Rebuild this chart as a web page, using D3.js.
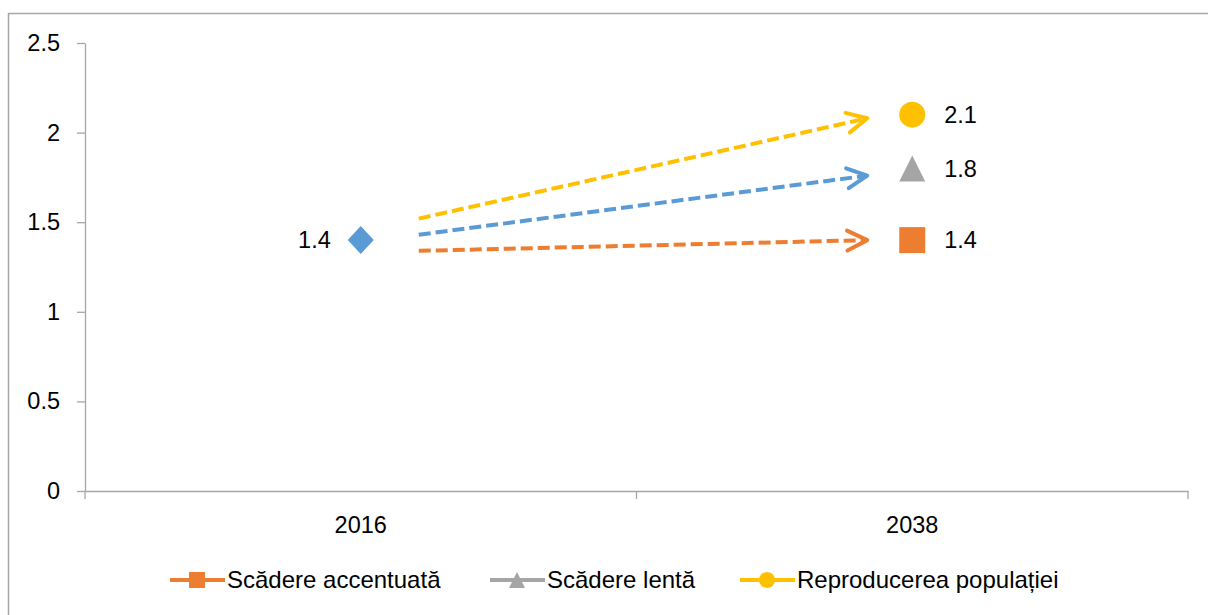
<!DOCTYPE html>
<html>
<head>
<meta charset="utf-8">
<script src="https://cdn.jsdelivr.net/npm/d3@7"></script>
<style>
  body { margin: 0; background: #fff; }
  svg { display: block; font-family: "Liberation Sans", Arial, sans-serif; }
  .axis path, .axis line { stroke: #a6a6a6; stroke-width: 1.3; }
  .axis text { fill: #000; font-size: 23.5px; }
</style>
</head>
<body>
<svg id="chart" width="1208" height="615"></svg>
<script>
// categories
const years = ["2016", "2038"];
const yTicks = [0, 0.5, 1, 1.5, 2, 2.5];

// starting point in 2016
const startValue = 1.4;

// scenarios in 2038
const scenarios = ["Scădere accentuată", "Scădere lentă", "Reproducerea populației"];
const scenarioValues = [1.4, 1.8, 2.1];
const scenarioShapes = ["square", "triangle", "circle"];
const scenarioColors = ["#ed7d31", "#a5a5a5", "#ffc000"];

// dashed arrows drawn between the two years (start / end values)
const arrowFrom = [1.34, 1.43, 1.52];
const arrowTo = [1.40, 1.76, 2.08];
const arrowColors = ["#ed7d31", "#5b9bd5", "#ffc000"];

const svg = d3.select('#chart');

// outer chart frame (cut off on the right and bottom)
svg.append('rect')
    .attr('x', 8.5).attr('y', 13.5)
    .attr('width', 1260).attr('height', 660)
    .attr('fill', 'none')
    .attr('stroke', '#a6a6a6')
    .attr('stroke-width', 1.5);

const x = d3.scaleBand().domain(years).range([85, 1188]);
const y = d3.scaleLinear().domain([0, 2.5]).range([491, 43]);
const cx = (d) => x(d) + x.bandwidth() / 2;

// y axis
svg.append('g')
    .attr('class', 'axis')
    .attr('transform', 'translate(85,0)')
    .call(d3.axisLeft(y).tickValues(yTicks).tickSize(8).tickSizeOuter(0).tickPadding(17).tickFormat((d) => String(d)));

// x axis: line + labels, ticks at band edges
const xAxis = svg.append('g')
    .attr('class', 'axis')
    .attr('transform', 'translate(0,491)')
    .call(d3.axisBottom(x).tickSize(0).tickSizeOuter(0).tickPadding(25));
xAxis.selectAll('.tick text').attr('dy', '0.71em');
const edges = years.map((d) => x(d)).concat([x(years[years.length - 1]) + x.bandwidth()]);
xAxis.selectAll('line.edge')
    .data(edges)
    .join('line')
    .attr('class', 'edge')
    .attr('x1', (d) => d).attr('x2', (d) => d)
    .attr('y1', 0).attr('y2', 8);

// arrow heads
const defs = svg.append('defs');
arrowColors.forEach((c, i) => {
    defs.append('marker')
        .attr('id', `head${i}`)
        .attr('viewBox', '0 0 26 26')
        .attr('refX', 23).attr('refY', 13)
        .attr('markerWidth', 26).attr('markerHeight', 26)
        .attr('markerUnits', 'userSpaceOnUse')
        .attr('orient', 'auto')
        .append('path')
        .attr('d', 'M3,3 L23,13 L3,23')
        .attr('fill', 'none')
        .attr('stroke', c)
        .attr('stroke-width', 4)
        .attr('stroke-linecap', 'round')
        .attr('stroke-linejoin', 'round');
});

const x0 = cx(years[0]) + 58;
const x1 = cx(years[1]) - 45;
svg.append('g')
    .selectAll('line')
    .data(arrowFrom)
    .join('line')
    .attr('x1', x0)
    .attr('y1', (d) => y(d))
    .attr('x2', x1)
    .attr('y2', (d, i) => y(arrowTo[i]))
    .attr('stroke', (d, i) => arrowColors[i])
    .attr('stroke-width', 4)
    .attr('stroke-dasharray', '12 5')
    .attr('marker-end', (d, i) => `url(#head${i})`);

// 2016 point
svg.append('path')
    .attr('transform', `translate(${cx(years[0])},${y(startValue)})`)
    .attr('d', 'M0,-14 L13,0 L0,14 L-13,0 Z')
    .attr('fill', '#5b9bd5');
svg.append('text')
    .attr('x', cx(years[0]) - 30)
    .attr('y', y(startValue))
    .attr('dy', '0.35em')
    .attr('text-anchor', 'end')
    .attr('font-size', 23.5)
    .text(startValue);

const shapePath = {
    square: (s) => `M${-s},${-s}H${s}V${s}H${-s}Z`,
    triangle: (s) => `M0,${-s}L${s},${s}L${-s},${s}Z`,
    circle: (s) => `M${-s},0A${s},${s} 0 1,1 ${s},0A${s},${s} 0 1,1 ${-s},0Z`,
};

// 2038 points
const pts = svg.append('g')
    .selectAll('g')
    .data(scenarioValues)
    .join('g')
    .attr('transform', (d) => `translate(${cx(years[1])},${y(d)})`);
pts.append('path')
    .attr('d', (d, i) => shapePath[scenarioShapes[i]](13))
    .attr('fill', (d, i) => scenarioColors[i]);
pts.append('text')
    .attr('x', 32)
    .attr('dy', '0.35em')
    .attr('font-size', 23.5)
    .text((d) => d);

// legend
const legendX = [170, 490, 740];
const legend = svg.append('g')
    .selectAll('g')
    .data(scenarios)
    .join('g')
    .attr('transform', (d, i) => `translate(${legendX[i]},580)`);
legend.append('line')
    .attr('x1', 0).attr('x2', 55)
    .attr('stroke', (d, i) => scenarioColors[i])
    .attr('stroke-width', 4);
legend.append('path')
    .attr('transform', 'translate(27,0)')
    .attr('d', (d, i) => shapePath[scenarioShapes[i]](8))
    .attr('fill', (d, i) => scenarioColors[i]);
legend.append('text')
    .attr('x', 57)
    .attr('dy', '0.35em')
    .attr('font-size', 24)
    .text((d) => d);
</script>
</body>
</html>
